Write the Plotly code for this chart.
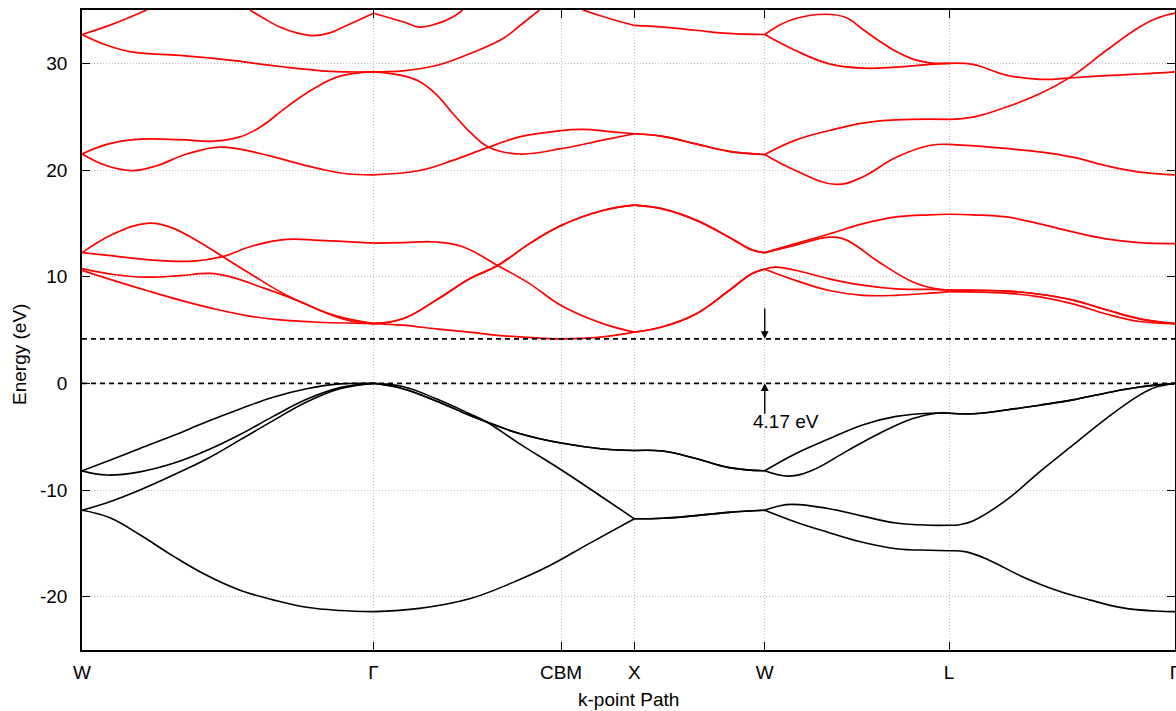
import plotly.graph_objects as go

# ---------------- high-symmetry path (k in units of 2*pi/a) ----------------
K_W0, K_G1, K_X, K_W1, K_L, K_G2 = 0.0, 1.118, 2.118, 2.618, 3.325, 4.191
K_CBM = 1.837
tick_k = [K_W0, K_G1, K_CBM, K_X, K_W1, K_L, K_G2]
tick_text = ["W", "Γ", "CBM", "X", "W", "L", "Γ"]
E_GAP = 4.17
y_tickvals = [-20, -10, 0, 10, 20, 30]
y_ticktext = ["-20", "-10", "0", "10", "20", "30"]

# ---------------- valence bands (black) ----------------
vb1_k = [0, 0.107, 0.222, 0.350, 0.478, 0.606, 0.733, 0.861, 0.989, 1.118,
         1.294, 1.486, 1.639, 1.792, 1.946, 2.118,
         2.226, 2.354, 2.481, 2.618,
         2.736, 2.865, 2.993, 3.122, 3.250, 3.325,
         3.391, 3.480, 3.608, 3.736, 3.863, 3.991, 4.119, 4.191]
vb1_e = [-11.9, -12.6, -14.2, -16.2, -18.0, -19.4, -20.3, -21.0, -21.3, -21.4,
         -21.1, -20.2, -18.8, -17.1, -15.0, -12.7,
         -12.65, -12.4, -12.1, -11.9,
         -13.0, -14.0, -14.9, -15.5, -15.65, -15.7,
         -15.8, -16.6, -18.15, -19.4, -20.3, -21.05, -21.35, -21.4]

vb2_k = [0, 0.107, 0.222, 0.350, 0.478, 0.606, 0.733, 0.861, 0.989, 1.118,
         1.230, 1.358, 1.486, 1.550, 1.677, 1.837, 1.997, 2.118,
         2.226, 2.354, 2.481, 2.618,
         2.672, 2.723, 2.865, 2.993, 3.122, 3.250, 3.325,
         3.365, 3.416, 3.544, 3.672, 3.799, 3.927, 4.055, 4.119, 4.191]
vb2_e = [-11.9, -11.1, -10.0, -8.6, -7.1, -5.3, -3.5, -1.75, -0.5, 0.0,
         -0.3, -1.45, -2.85, -3.6, -5.65, -8.1, -10.7, -12.7,
         -12.65, -12.4, -12.1, -11.9,
         -11.5, -11.35, -11.75, -12.45, -13.1, -13.3, -13.3,
         -13.25, -12.9, -10.95, -8.3, -5.8, -3.3, -1.1, -0.35, 0.0]

vb3_k = [0, 0.0947, 0.222, 0.350, 0.478, 0.606, 0.733, 0.861, 0.989, 1.118,
         1.230, 1.358, 1.486, 1.550, 1.677, 1.837, 1.997, 2.118,
         2.226, 2.354, 2.481, 2.618,
         2.710, 2.800, 2.929, 3.057, 3.186, 3.276, 3.325,
         3.416, 3.544, 3.672, 3.799, 3.927, 4.055, 4.191]
vb3_e = [-8.2, -8.6, -8.3, -7.5, -6.3, -4.8, -3.1, -1.5, -0.4, 0.0,
         -0.5, -1.65, -3.0, -3.6, -4.7, -5.6, -6.15, -6.3,
         -6.35, -7.05, -7.9, -8.2,
         -8.7, -8.15, -6.4, -4.7, -3.3, -2.8, -2.8,
         -2.85, -2.5, -2.05, -1.55, -0.9, -0.35, 0.0]

vb4_k = [0, 0.107, 0.222, 0.350, 0.478, 0.606, 0.733, 0.861, 0.989, 1.118,
         1.230, 1.358, 1.486, 1.550, 1.677, 1.837, 1.997, 2.118,
         2.226, 2.354, 2.481, 2.618,
         2.736, 2.865, 2.993, 3.122, 3.250, 3.325,
         3.416, 3.544, 3.672, 3.799, 3.927, 4.055, 4.191]
vb4_e = [-8.2, -7.2, -6.1, -4.9, -3.6, -2.4, -1.3, -0.5, -0.05, 0.0,
         -0.5, -1.65, -3.0, -3.6, -4.7, -5.6, -6.15, -6.3,
         -6.35, -7.05, -7.9, -8.2,
         -6.6, -5.2, -3.9, -3.1, -2.8, -2.8,
         -2.85, -2.5, -2.05, -1.55, -0.9, -0.35, 0.0]

# ---------------- conduction bands (red) ----------------
cb1_k = [0, 0.120, 0.248, 0.3756, 0.5033, 0.6313, 0.7589, 0.8865, 1.118,
         1.230, 1.358, 1.486, 1.594, 1.716, 1.837, 1.920, 1.997, 2.118,
         2.226, 2.354, 2.481, 2.570, 2.618,
         2.736, 2.865, 2.993, 3.122, 3.250, 3.325,
         3.544, 3.672, 3.799, 3.927, 4.055, 4.191]
cb1_e = [10.6, 9.65, 8.7, 7.8, 7.0, 6.35, 5.95, 5.75, 5.6,
         5.45, 5.1, 4.8, 4.5, 4.3, 4.17, 4.22, 4.35, 4.8,
         5.3, 6.5, 8.7, 10.3, 10.7,
         9.65, 8.7, 8.25, 8.25, 8.45, 8.6,
         8.45, 8.1, 7.45, 6.5, 5.8, 5.6]

cb2_k = [0, 0.120, 0.248, 0.3756, 0.4906, 0.5673, 0.6949, 0.8229, 0.9505, 1.118,
         1.230, 1.358, 1.486, 1.594, 1.716, 1.837, 1.997, 2.118,
         2.226, 2.354, 2.481, 2.570, 2.618,
         2.736, 2.865, 2.929, 3.057, 3.186, 3.276, 3.325,
         3.544, 3.672, 3.799, 3.927, 4.055, 4.191]
cb2_e = [10.75, 10.2, 9.95, 10.1, 10.3, 10.0, 8.95, 7.8, 6.5, 5.6,
         6.05, 7.8, 9.8, 11.05, 13.1, 14.8, 16.2, 16.7,
         16.35, 15.3, 13.7, 12.5, 12.25,
         12.95, 13.7, 13.45, 11.35, 9.5, 8.85, 8.75,
         8.65, 8.35, 7.8, 6.9, 6.05, 5.6]

cb3_k = [0, 0.120, 0.248, 0.3373, 0.4396, 0.5416, 0.6566, 0.7846, 0.9122, 1.0145, 1.118,
         1.230, 1.358, 1.486, 1.594, 1.716, 1.837, 1.997, 2.118,
         2.226, 2.354, 2.481, 2.570, 2.618,
         2.736, 2.865, 2.993, 3.122, 3.250, 3.325,
         3.416, 3.544, 3.672, 3.799, 3.927, 4.055, 4.191]
cb3_e = [12.25, 14.0, 15.0, 14.65, 13.4, 11.85, 10.1, 8.25, 6.85, 5.95, 5.6,
         6.05, 7.8, 9.8, 11.05, 13.1, 14.8, 16.2, 16.7,
         16.35, 15.3, 13.7, 12.5, 12.25,
         13.1, 14.0, 14.95, 15.6, 15.8, 15.85,
         15.8, 15.6, 14.95, 14.2, 13.55, 13.2, 13.1]

cb4_k = [0, 0.120, 0.248, 0.4266, 0.5416, 0.6566, 0.7846, 0.9122, 1.118,
         1.230, 1.358, 1.460, 1.594, 1.716, 1.837, 1.997, 2.118,
         2.226, 2.354, 2.481, 2.570, 2.618,
         2.659, 2.736, 2.865, 2.993, 3.122, 3.250, 3.325,
         3.544, 3.672, 3.799, 3.927, 4.055, 4.191]
cb4_e = [12.25, 11.95, 11.6, 11.45, 11.9, 12.9, 13.5, 13.4, 13.15,
         13.2, 13.25, 12.8, 11.05, 9.35, 7.3, 5.6, 4.8,
         5.3, 6.5, 8.7, 10.3, 10.7,
         10.9, 10.6, 9.8, 9.2, 8.85, 8.8, 8.75,
         8.65, 8.35, 7.8, 6.9, 6.05, 5.6]

cb5_k = [0, 0.0947, 0.1966, 0.2863, 0.4013, 0.529, 0.6566, 0.7846, 0.9122, 1.0145, 1.118,
         1.294, 1.422, 1.550, 1.677, 1.837, 1.920, 2.022, 2.118,
         2.226, 2.354, 2.481, 2.618,
         2.736, 2.890, 2.993, 3.122, 3.250, 3.325,
         3.480, 3.672, 3.799, 3.927, 4.055, 4.191]
cb5_e = [21.5, 20.4, 19.95, 20.4, 21.5, 22.15, 21.7, 20.9, 20.1, 19.65, 19.55,
         19.95, 20.9, 22.05, 23.1, 23.7, 23.8, 23.6, 23.4,
         23.15, 22.45, 21.75, 21.45,
         19.95, 18.65, 19.35, 21.2, 22.3, 22.4,
         22.15, 21.7, 21.2, 20.4, 19.8, 19.55]

cb6_k = [0, 0.0947, 0.1966, 0.3756, 0.5033, 0.6056, 0.6822, 0.7846, 0.8865, 0.9888, 1.118,
         1.230, 1.294, 1.358, 1.422, 1.486, 1.562, 1.677, 1.837, 1.997, 2.118,
         2.226, 2.354, 2.481, 2.618,
         2.736, 2.865, 2.993, 3.122, 3.325,
         3.416, 3.544, 3.672, 3.799, 3.927, 4.055, 4.119, 4.191]
cb6_e = [21.5, 22.4, 22.85, 22.85, 22.7, 23.1, 24.0, 25.9, 27.6, 28.8, 29.2,
         28.85, 28.3, 27.1, 25.3, 23.6, 22.1, 21.5, 22.0, 22.8, 23.4,
         23.15, 22.45, 21.75, 21.45,
         22.8, 23.7, 24.4, 24.7, 24.75,
         24.95, 25.9, 27.15, 28.85, 31.2, 33.4, 34.2, 34.7]

cb7_k = [0, 0.0947, 0.1966, 0.3756, 0.5673, 0.7589, 0.9505, 1.118,
         1.230, 1.358, 1.486, 1.613, 1.677, 1.754]
cb7_e = [32.7, 31.7, 31.05, 30.75, 30.3, 29.7, 29.25, 29.2,
         29.3, 29.8, 30.9, 32.3, 33.5, 35.0]

cb8_k = [1.920, 2.022, 2.118,
         2.226, 2.354, 2.481, 2.618,
         2.736, 2.865, 2.993, 3.122, 3.250, 3.325,
         3.416, 3.544, 3.672, 3.799, 3.927, 4.055, 4.191]
cb8_e = [35.0, 34.2, 33.55,
         33.4, 33.1, 32.8, 32.7,
         31.2, 29.95, 29.55, 29.65, 29.9, 30.0,
         29.9, 28.9, 28.5, 28.65, 28.85, 29.0, 29.2]

cb9_k = [2.618, 2.672, 2.736, 2.852, 2.929, 2.993, 3.057, 3.122, 3.186, 3.250, 3.325]
cb9_e = [32.7, 33.55, 34.2, 34.6, 34.3, 33.2, 32.1, 31.1, 30.4, 30.05, 30.0]

cb10_k = [0, 0.120, 0.248]
cb10_e = [32.7, 33.7, 35.0]

cb11_k = [0.644, 0.695, 0.7589, 0.8229, 0.8865, 0.9505, 1.0145, 1.078, 1.118,
          1.230, 1.294, 1.358, 1.422, 1.460]
cb11_e = [35.0, 34.25, 33.4, 32.85, 32.6, 32.85, 33.55, 34.25, 34.7,
          33.9, 33.4, 33.7, 34.35, 35.0]

valence = [(vb1_k, vb1_e), (vb2_k, vb2_e), (vb3_k, vb3_e), (vb4_k, vb4_e)]
conduction = [(cb1_k, cb1_e), (cb2_k, cb2_e), (cb3_k, cb3_e), (cb4_k, cb4_e),
              (cb5_k, cb5_e), (cb6_k, cb6_e), (cb7_k, cb7_e), (cb8_k, cb8_e),
              (cb9_k, cb9_e), (cb10_k, cb10_e), (cb11_k, cb11_e)]

BREAKS = [K_G1, K_X, K_W1, K_L]


def split_segments(ks, es):
    """Split a band at the high-symmetry points so kinks there are kept."""
    segs = []
    cur_k, cur_e = [ks[0]], [es[0]]
    for i in range(1, len(ks)):
        cur_k.append(ks[i])
        cur_e.append(es[i])
        if i < len(ks) - 1 and any(abs(ks[i] - b) < 1e-6 for b in BREAKS):
            segs.append((cur_k, cur_e))
            cur_k, cur_e = [ks[i]], [es[i]]
    segs.append((cur_k, cur_e))
    return segs


fig = go.Figure()

for bands, color, width in [(conduction, "#ff0000", 1.7), (valence, "#000000", 1.6)]:
    for ks, es in bands:
        for sk, se in split_segments(ks, es):
            fig.add_trace(go.Scatter(
                x=sk, y=se, mode="lines",
                line=dict(color=color, width=width, shape="spline", smoothing=1.15),
                showlegend=False, hoverinfo="skip"))

FONT = "Liberation Sans, Arial, Helvetica, sans-serif"
FS = 19

# dashed reference lines: VBM (0) and CBM (gap)
for yv in [0.0, E_GAP]:
    fig.add_shape(type="line", xref="paper", x0=0, x1=1, yref="y", y0=yv, y1=yv,
                  line=dict(color="black", width=1.6, dash="5px,4px"))

# arrows marking the gap
fig.add_annotation(x=K_W1, y=E_GAP, ax=K_W1, ay=7.15, xref="x", yref="y",
                   axref="x", ayref="y", text="", showarrow=True,
                   arrowhead=2, arrowsize=1.1, arrowwidth=1.4, arrowcolor="black")
fig.add_annotation(x=K_W1, y=0.0, ax=K_W1, ay=-3.0, xref="x", yref="y",
                   axref="x", ayref="y", text="", showarrow=True,
                   arrowhead=2, arrowsize=1.1, arrowwidth=1.4, arrowcolor="black")
fig.add_annotation(x=2.701, y=-3.55, xref="x", yref="y", text=f"{E_GAP:.2f} eV",
                   showarrow=False, font=dict(family=FONT, size=FS, color="black"))

# axis titles
fig.add_annotation(x=0.5, y=-0.078, xref="paper", yref="paper", text="k-point Path",
                   showarrow=False, yanchor="middle",
                   font=dict(family=FONT, size=FS, color="black"))
fig.add_annotation(x=-0.0567, y=0.461, xref="paper", yref="paper", text="Energy (eV)",
                   textangle=-90, showarrow=False, xanchor="center", yanchor="middle",
                   font=dict(family=FONT, size=FS, color="black"))

axis_common = dict(showline=True, linecolor="black", linewidth=1.6, mirror="ticks",
                   ticks="inside", ticklen=8, tickwidth=1.4, tickcolor="black",
                   showgrid=True, gridcolor="#bdbdbd", griddash="1px,2px", gridwidth=1,
                   zeroline=False, ticklabeloverflow="allow", automargin=False,
                   tickfont=dict(family=FONT, size=FS, color="black"))

fig.update_xaxes(range=[K_W0, K_G2], tickmode="array", tickvals=tick_k,
                 ticktext=tick_text, ticklabelstandoff=4, **axis_common)
fig.update_yaxes(range=[-25, 35], tickmode="array", tickvals=y_tickvals,
                 ticktext=y_ticktext, ticklabelstandoff=9, **axis_common)

fig.update_layout(width=1176, height=711, autosize=False,
                  margin=dict(l=82, r=1, t=10, b=61, pad=0, autoexpand=False),
                  paper_bgcolor="white", plot_bgcolor="white",
                  font=dict(family=FONT, size=FS, color="black"),
                  showlegend=False)

fig.write_html("out.html")
